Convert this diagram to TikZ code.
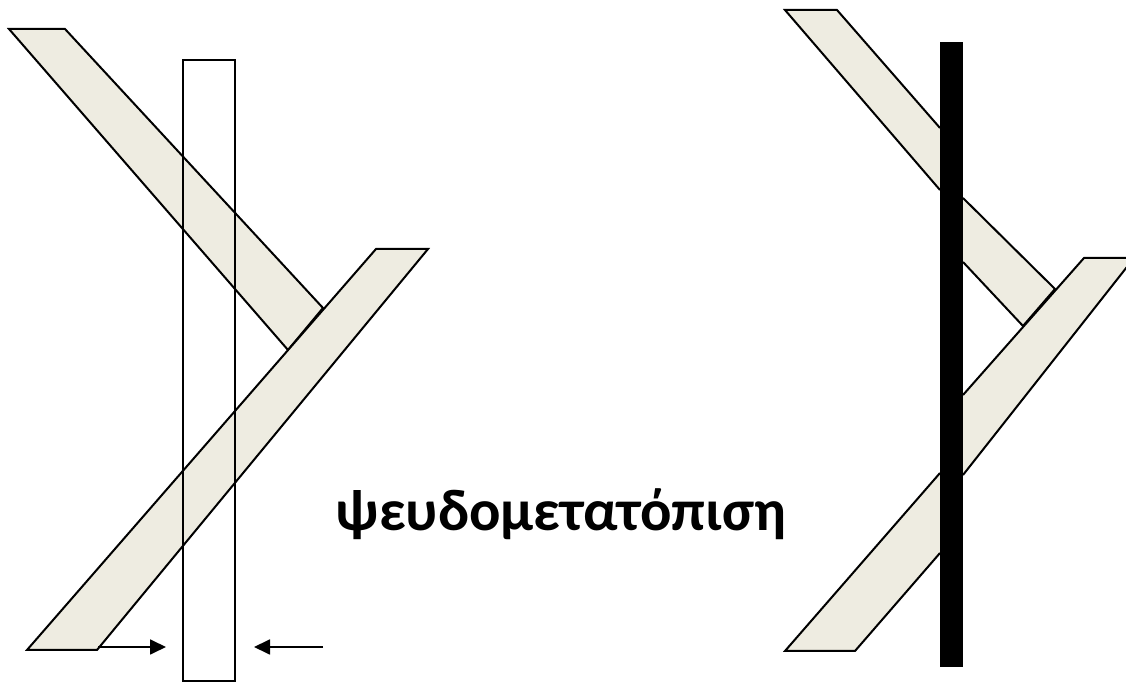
\documentclass[tikz,border=0pt]{standalone}
\usepackage{fontspec}
\setmainfont{Carlito}
\usetikzlibrary{arrows.meta}
\definecolor{Stone}{HTML}{EEECE1}
\tikzset{
  strip/.style={draw=black,fill=Stone,line width=1pt,line join=miter},
  slit/.style={draw=black,line width=1pt},
  plate/.style={fill=black,draw=none},
  push/.style={-{Triangle[length=8pt,width=7.5pt]},line width=.9pt},
  label/.style={font=\fontsize{29.3}{34}\selectfont\bfseries},
}
\begin{document}
\begin{tikzpicture}[x=.5pt,y=-.5pt]
        \useasboundingbox (0,0) rectangle (1126,683);
        \clip (0,0) rectangle (1126,683);
        % left: rod seen through the open slit
        \draw[strip] (9,29) -- (65,29) -- (323,308) -- (288,350) -- cycle;
        \draw[strip] (27,650) -- (97,650) -- (428,249) -- (376,249) -- cycle;
        \draw[slit] (183,60) rectangle (235,681);
        \coordinate (foot) at (98,647);
        \coordinate (inL) at (166,647);
        \coordinate (outR) at (323,647);
        \coordinate (inR) at (254,647);
        \draw[push] (foot) -- (inL);
        \draw[push] (outR) -- (inR);
        % label
        \node[label] (pseudo) at (561,514) {ψευδομετατόπιση};
        % right: rod broken behind the dark plate
        \draw[strip] (940,190) -- (785,10) -- (837,10) -- (940,128);
        \draw[strip] (963,198) -- (1055,289) -- (1023,326) -- (963,262);
        \draw[strip] (940,473) -- (785,651) -- (855,651) -- (940,553);
        \draw[strip] (963,475) -- (1134,258) -- (1084,258) -- (963,395);
        \fill[plate] (940,42) rectangle (963,667);
\end{tikzpicture}
\end{document}
